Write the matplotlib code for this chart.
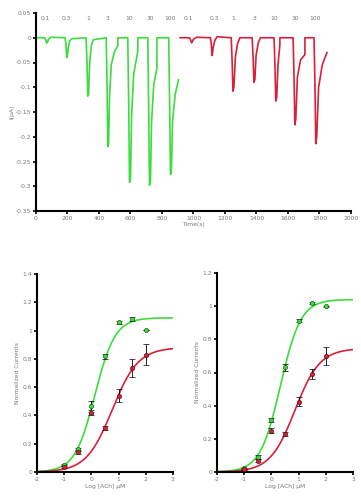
import numpy as np
import matplotlib
matplotlib.use("Agg")
import matplotlib.pyplot as plt

# ---------------- data ----------------
# current traces (time s, current)
green_t = [0, 55, 62, 68, 73, 80, 95, 184, 190, 195, 199, 205, 214, 228, 318, 324, 329, 334, 341, 352, 364,
           446, 451, 456, 461, 467, 478, 498, 520, 520, 583, 589, 594, 600, 607, 620, 647, 647,
           710, 716, 721, 727, 734, 748, 768, 768, 843, 849, 854, 860, 867, 884, 905]
green_i = [0, 0, -0.004, -0.011, -0.009, -0.003, 0.001, 0, -0.012, -0.04, -0.038, -0.02, -0.006, -0.002,
           0, -0.05, -0.118, -0.115, -0.05, -0.015, -0.004,
           0, -0.09, -0.22, -0.215, -0.12, -0.055, -0.028, -0.016, 0,
           0, -0.14, -0.292, -0.285, -0.16, -0.075, -0.026, 0,
           0, -0.15, -0.298, -0.29, -0.17, -0.095, -0.062, 0,
           0, -0.14, -0.276, -0.27, -0.17, -0.115, -0.085]
red_t = [915, 975, 982, 988, 993, 1000, 1020, 1108, 1114, 1119, 1125, 1135, 1150,
         1240, 1246, 1251, 1257, 1266, 1280, 1295,
         1373, 1379, 1384, 1390, 1398, 1412, 1425,
         1512, 1518, 1523, 1529, 1537, 1549, 1549,
         1633, 1639, 1644, 1650, 1660, 1680, 1708, 1708,
         1766, 1772, 1777, 1783, 1795, 1818, 1848]
red_i = [0, 0, -0.004, -0.01, -0.008, -0.003, 0.001, 0, -0.015, -0.036, -0.02, -0.006, 0.002,
         0, -0.05, -0.108, -0.1, -0.04, -0.012, 0,
         0, -0.04, -0.09, -0.085, -0.035, -0.01, 0,
         0, -0.06, -0.128, -0.12, -0.055, -0.014, 0,
         0, -0.08, -0.176, -0.165, -0.08, -0.045, -0.034, 0,
         0, -0.1, -0.214, -0.2, -0.1, -0.055, -0.03]
green_conc_labels = ["0.1", "0.3", "1", "3", "10", "30", "100"]
green_conc_t = [60, 190, 330, 455, 590, 725, 850]
red_conc_labels = ["0.1", "0.3", "1", "3", "10", "30", "100"]
red_conc_t = [965, 1135, 1250, 1385, 1515, 1645, 1770]

# concentration-response, left panel
logc = [-1, -0.5, 0, 0.5, 1, 1.5, 2]
L_green = [0.05, 0.163, 0.47, 0.817, 1.06, 1.08, 1.005]
L_green_err = [0.01, 0.01, 0.03, 0.015, 0.01, 0.015, 0.0]
L_red = [0.038, 0.14, 0.415, 0.31, 0.54, 0.734, 0.83]
L_red_err = [0.01, 0.01, 0.01, 0.015, 0.045, 0.065, 0.075]
L_green_fit = dict(top=1.09, ec50=0.13, hill=1.17)
L_red_fit = dict(top=0.88, ec50=0.767, hill=0.91)

# right panel
R_green = [0.022, 0.093, 0.314, 0.632, 0.912, 1.019, 0.999]
R_green_err = [0.005, 0.012, 0.01, 0.02, 0.01, 0.005, 0.003]
R_red = [0.016, 0.068, 0.25, 0.23, 0.425, 0.592, 0.70]
R_red_err = [0.005, 0.01, 0.015, 0.01, 0.03, 0.03, 0.055]
R_green_fit = dict(top=1.04, ec50=0.331, hill=1.16)
R_red_fit = dict(top=0.745, ec50=0.866, hill=0.95)

GREEN = "#3ddc3d"
RED = "#d8203a"
TXT = "#777777"
FS = 4.3

fig = plt.figure(figsize=(3.61, 5.0), dpi=100)

def style(ax):
    for s in ["top", "right"]:
        ax.spines[s].set_visible(False)
    for s in ["left", "bottom"]:
        ax.spines[s].set_linewidth(1.5)
        ax.spines[s].set_color("black")
    ax.tick_params(direction="out", length=2, width=1.2, color="black",
                   labelsize=FS, labelcolor=TXT, pad=1.5)

# ---------- top traces ----------
ax = fig.add_axes([0.0997, 0.578, 0.8723, 0.396])
ax.plot(green_t, green_i, color=GREEN, lw=1.2)
ax.plot(red_t, red_i, color=RED, lw=1.2)
ax.set_xlim(0, 2000)
ax.set_ylim(-0.35, 0.05)
ax.set_xticks(np.arange(0, 2001, 200))
yt = [0.05, 0, -0.05, -0.1, -0.15, -0.2, -0.25, -0.3, -0.35]
ax.set_yticks(yt)
ax.set_yticklabels(["0.05", "0", "-0.05", "-0.1", "-0.15", "-0.2", "-0.25", "-0.3", "-0.35"])
style(ax)
for lab, t in zip(green_conc_labels, green_conc_t):
    ax.text(t, 0.038, lab, fontsize=FS, color=TXT, ha="center", va="center")
for lab, t in zip(red_conc_labels, red_conc_t):
    ax.text(t, 0.038, lab, fontsize=FS, color=TXT, ha="center", va="center")
ax.set_xlabel("Time(s)", fontsize=FS, color=TXT, labelpad=1)
ax.set_ylabel("I(μA)", fontsize=FS, color=TXT, labelpad=1)

# ---------- dose response ----------
def hill(x, p):
    return p["top"] / (1 + 10 ** ((p["ec50"] - x) * p["hill"]))

xs = np.linspace(-2, 3, 300)

def dr(rect, g, ge, r, re, gfit, rfit, ymax, yticks, ylabs):
    a = fig.add_axes(rect)
    a.plot(xs, hill(xs, gfit), color=GREEN, lw=1.2, zorder=2)
    a.plot(xs, hill(xs, rfit), color=RED, lw=1.2, zorder=2)
    a.errorbar(logc, g, yerr=ge, fmt="o", ms=3, mfc=GREEN, mec="#1a5a1a", mew=0.5,
               ecolor="black", elinewidth=0.6, capsize=2, capthick=0.6, zorder=3)
    a.errorbar(logc, r, yerr=re, fmt="o", ms=3, mfc=RED, mec="#5a1010", mew=0.5,
               ecolor="black", elinewidth=0.6, capsize=2, capthick=0.6, zorder=3)
    a.set_xlim(-2, 3)
    a.set_ylim(0, ymax)
    a.set_xticks([-2, -1, 0, 1, 2, 3])
    a.set_xticklabels(["-2", "-1", "0", "1", "2", "3"])
    a.set_yticks(yticks)
    a.set_yticklabels(ylabs)
    style(a)
    a.set_xlabel("Log [ACh] μM", fontsize=FS, color=TXT, labelpad=1.5)
    a.set_ylabel("Normalized Currents", fontsize=FS, color=TXT, labelpad=2)
    return a

dr([0.1025, 0.056, 0.3765, 0.396], L_green, L_green_err, L_red, L_red_err,
   L_green_fit, L_red_fit, 1.4, [0, 0.2, 0.4, 0.6, 0.8, 1.0, 1.2, 1.4],
   ["0", "0.2", "0.4", "0.6", "0.8", "1", "1.2", "1.4"])
dr([0.601, 0.056, 0.377, 0.398], R_green, R_green_err, R_red, R_red_err,
   R_green_fit, R_red_fit, 1.2, [0, 0.2, 0.4, 0.6, 0.8, 1.0, 1.2],
   ["0", "0.2", "0.4", "0.6", "0.8", "1", "1.2"])

fig.savefig("out.png", dpi=100)
